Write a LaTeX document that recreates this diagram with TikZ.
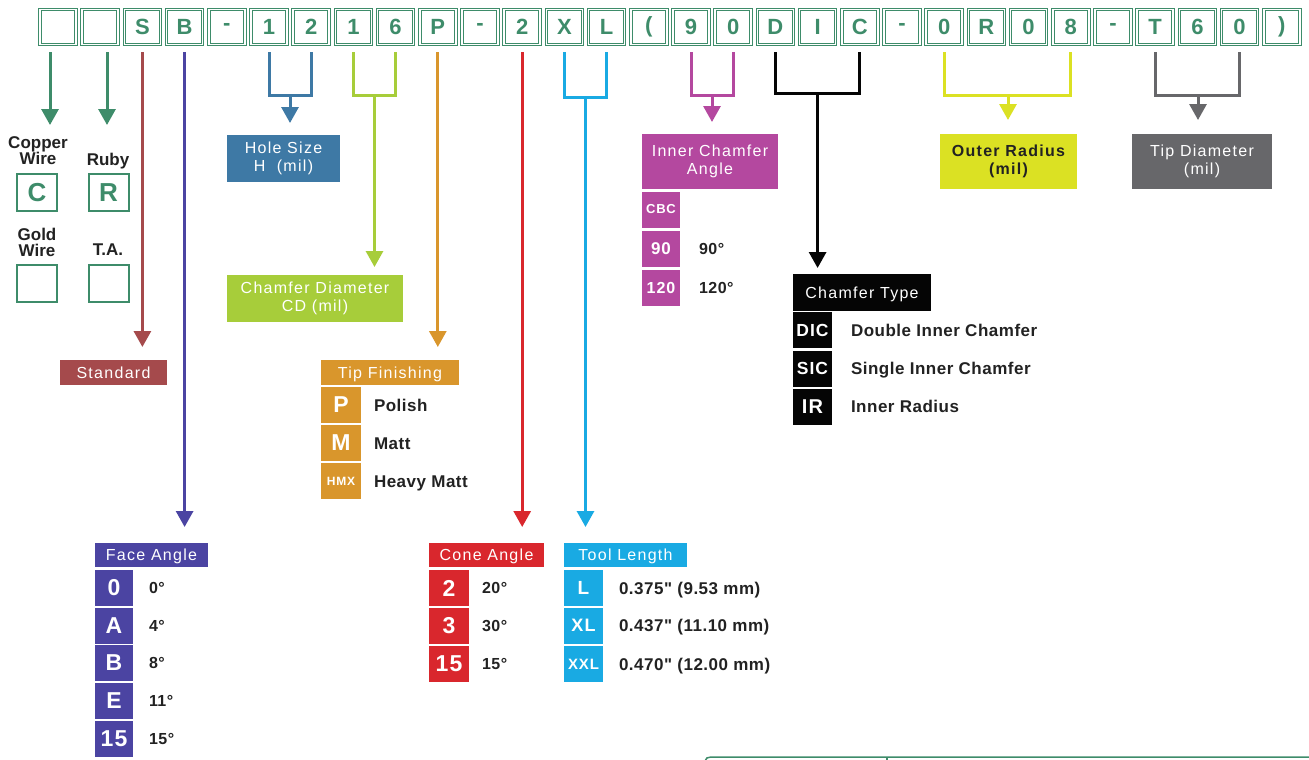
\documentclass[tikz,border=0pt]{standalone}
\usepackage{fontspec}
\setmainfont{Liberation Sans}
\newfontfamily\hdrf{Liberation Sans}[LetterSpace=8]
\newfontfamily\celf{Liberation Sans}[LetterSpace=6]
\newfontfamily\dscf{Liberation Sans}[LetterSpace=3]
\usetikzlibrary{arrows.meta}
\definecolor{cgreen}{HTML}{3E8C6A}
\definecolor{stdC}{HTML}{A54A4C}
\definecolor{faceC}{HTML}{4B44A2}
\definecolor{holeC}{HTML}{3E79A5}
\definecolor{limeC}{HTML}{A7CD3A}
\definecolor{tipC}{HTML}{D9962C}
\definecolor{coneC}{HTML}{D9272D}
\definecolor{toolC}{HTML}{19AAE3}
\definecolor{icaC}{HTML}{B4489F}
\definecolor{blkC}{HTML}{050505}
\definecolor{outC}{HTML}{DBE123}
\definecolor{grayC}{HTML}{67676A}
\definecolor{txtC}{HTML}{222222}
\newcommand\fsz[2]{\fontsize{#1}{#2}\selectfont}
\begin{document}
\begin{tikzpicture}[x=1pt,y=-1pt,
  every node/.style={inner sep=0pt, outer sep=0pt},
  topbox/.style={draw=cgreen, double=white, double distance=1.6pt, line width=1pt,
    minimum width=36pt, minimum height=35pt, text=cgreen, font=\bfseries\fsz{22}{22}},
  lbox/.style={draw=cgreen, line width=2pt, minimum width=40pt, minimum height=37pt,
    text=cgreen, font=\bfseries\fsz{26}{26}},
  lbl/.style={align=center, text=txtC, font=\bfseries\fsz{17}{16}},
  hdr/.style={text=white, font=\hdrf\fsz{16}{18}, align=center},
  hdr1/.style={hdr, text height=11.5pt, text depth=0pt},
  cell/.style={minimum height=36pt, text=white, font=\celf\bfseries},
  val/.style={anchor=west, text=txtC, font=\dscf\bfseries\fsz{16}{16}, text height=11.5pt, text depth=0pt},
  dsc/.style={anchor=west, text=txtC, font=\dscf\bfseries\fsz{17}{17}, text height=12.2pt, text depth=0pt},
  arr/.style={line width=3pt, -{Triangle[width=17pt,length=16pt]}},
  brk/.style={line width=3pt, line join=miter},
]
\fill[white] (0,0) rectangle (1309,760);
\useasboundingbox (0,0) rectangle (1309,760);

% ---- top code boxes
\foreach \t [count=\i from 0] in {{},{},S,B,-,1,2,1,6,P,-,2,X,L,{(},9,0,D,I,C,-,0,R,0,8,-,T,6,0,{)}}
  \node[topbox] (b\i) at ({58+42.2*\i},27) {\t};

% ---- left group
\node[lbl] (cu) at (38,151) {Copper\\Wire};
\node[lbl, anchor=base] (ruby) at (108,165) {Ruby};
\node[lbox] (cbox) at (37,192.5) {C};
\node[lbox] (rbox) at (108.5,192.5) {R};
\node[lbl] (gold) at (37,242) {Gold\\Wire};
\node[lbl, anchor=base] (ta) at (108,255) {T.A.};
\node[lbox] (gbox) at (37,283.5) {};
\node[lbox] (tbox) at (108.5,283.5) {};
\coordinate (g0) at (50,125);
\coordinate (g1) at (107,125);
\draw[arr,cgreen] (g0 |- b0.south) ++(0,8) -- (g0);
\draw[arr,cgreen] (g1 |- b1.south) ++(0,8) -- (g1);

% ---- target boxes
\node[hdr1, fill=stdC, minimum width=107pt, minimum height=25pt] (std) at (113.5,372.5) {Standard};
\node[hdr1, fill=faceC, minimum width=113pt, minimum height=24pt] (fah) at (151.5,555) {Face Angle};
\node[hdr, fill=holeC, minimum width=113pt, minimum height=47pt] (hole) at (283.5,158.5) {Hole Size\\H~~(mil)};
\node[hdr, fill=limeC, minimum width=176pt, minimum height=47pt] (cd) at (315,298.5) {Chamfer Diameter\\CD (mil)};
\node[hdr1, fill=tipC, minimum width=138pt, minimum height=25pt] (tf) at (390,372.5) {Tip Finishing};
\node[hdr1, fill=coneC, minimum width=115pt, minimum height=24pt] (cone) at (486.5,555) {Cone Angle};
\node[hdr1, fill=toolC, minimum width=123pt, minimum height=24pt] (tool) at (625.5,555) {Tool Length};
\node[hdr, fill=icaC, minimum width=136pt, minimum height=55pt] (ica) at (710,161.5) {Inner Chamfer\\Angle};
\node[hdr1, fill=blkC, minimum width=138pt, minimum height=37pt] (ctype) at (862,292.5) {Chamfer Type};
\node[hdr, fill=outC, text=txtC, font=\hdrf\bfseries\fsz{16}{18}, minimum width=137pt, minimum height=55pt] (outer) at (1008.5,161.5) {Outer Radius\\(mil)};
\node[hdr, fill=grayC, minimum width=140pt, minimum height=55pt] (tipd) at (1202,161.5) {Tip Diameter\\(mil)};

% ---- single arrows
\draw[arr,stdC,shorten >=13pt] (b2.south) ++(0,8) -- (b2.south |- std.north);
\draw[arr,faceC,shorten >=16pt] (b3.south) ++(0,8) -- (b3.south |- fah.north);
\draw[arr,tipC,shorten >=13pt] (b9.south) ++(0,8) -- (b9.south |- tf.north);
\draw[arr,coneC,shorten >=16pt] (b11.south) ++(0,8) -- (b11.south |- cone.north);

% ---- brackets
\coordinate (hj) at (290,95);
\draw[brk,holeC] (b5.south) ++(0,8) |- (hj) -| ([yshift=-8pt]b6.south);
\draw[arr,holeC,shorten >=12pt] (hj) -- (hj |- hole.north);
\coordinate (lj) at (374.5,95);
\draw[brk,limeC] (b7.south) ++(0,8) |- (lj) -| ([yshift=-8pt]b8.south);
\draw[arr,limeC,shorten >=8pt] (lj) -- (lj |- cd.north);
\coordinate (tj) at (585.5,97);
\draw[brk,toolC] (b12.south) ++(0,8) |- (tj) -| ([yshift=-8pt]b13.south);
\draw[arr,toolC,shorten >=16pt] (tj) -- (tj |- tool.north);
\coordinate (mj) at (712,95);
\draw[brk,icaC] (b15.south) ++(0,8) |- (mj) -| ([yshift=-8pt]b16.south);
\draw[arr,icaC,shorten >=12pt] (mj) -- (mj |- ica.north);
\coordinate (kj) at (817.6,93);
\draw[brk,blkC] (b17.south) ++(0,8) |- (kj) -| ([yshift=-8pt]b19.south);
\draw[arr,blkC,shorten >=6pt] (kj) -- (kj |- ctype.north);
\coordinate (yj) at (1008,95);
\draw[brk,outC] (b21.south) ++(0,8) |- (yj) -| ([yshift=-8pt]b24.south);
\draw[arr,outC,shorten >=14pt] (yj) -- (yj |- outer.north);
\coordinate (gj) at (1198,95);
\draw[brk,grayC] (b26.south) ++(0,8) |- (gj) -| ([yshift=-8pt]b28.south);
\draw[arr,grayC,shorten >=14pt] (gj) -- (gj |- tipd.north);

% ---- Face angle table
\node[cell, fill=faceC, minimum width=38pt] (fa1) at (114,587.5) {\fsz{23}{23}0};
\node[cell, fill=faceC, minimum width=38pt] (fa2) at (114,625.5) {\fsz{23}{23}A};
\node[cell, fill=faceC, minimum width=38pt] (fa3) at (114,663) {\fsz{23}{23}B};
\node[cell, fill=faceC, minimum width=38pt] (fa4) at (114,700.5) {\fsz{23}{23}E};
\node[cell, fill=faceC, minimum width=38pt] (fa5) at (114,739) {\fsz{23}{23}15};
\node[val] (fv1) at (149,587.5) {0°};
\node[val] (fv2) at (149,625.5) {4°};
\node[val] (fv3) at (149,663) {8°};
\node[val] (fv4) at (149,700.5) {11°};
\node[val] (fv5) at (149,739) {15°};

% ---- Cone angle table
\node[cell, fill=coneC, minimum width=40pt] (ca1) at (449,588) {\fsz{23}{23}2};
\node[cell, fill=coneC, minimum width=40pt] (ca2) at (449,625.5) {\fsz{23}{23}3};
\node[cell, fill=coneC, minimum width=40pt] (ca3) at (449,664) {\fsz{23}{23}15};
\node[val] (cv1) at (482,588) {20°};
\node[val] (cv2) at (482,625.5) {30°};
\node[val] (cv3) at (482,664) {15°};

% ---- Tool length table
\node[cell, fill=toolC, minimum width=39pt] (tl1) at (583.5,588) {\fsz{19}{19}L};
\node[cell, fill=toolC, minimum width=39pt] (tl2) at (583.5,625.5) {\fsz{18}{18}XL};
\node[cell, fill=toolC, minimum width=39pt] (tl3) at (583.5,664) {\fsz{15}{15}XXL};
\node[dsc] (tv1) at (619,588) {0.375" (9.53 mm)};
\node[dsc] (tv2) at (619,625.5) {0.437" (11.10 mm)};
\node[dsc] (tv3) at (619,664) {0.470" (12.00 mm)};

% ---- Tip finishing table
\node[cell, fill=tipC, minimum width=40pt] (tp1) at (341,405) {\fsz{23}{23}P};
\node[cell, fill=tipC, minimum width=40pt] (tp2) at (341,443) {\fsz{23}{23}M};
\node[cell, fill=tipC, minimum width=40pt] (tp3) at (341,481) {\fsz{12}{12}HMX};
\node[dsc] (tpv1) at (374,405) {Polish};
\node[dsc] (tpv2) at (374,443) {Matt};
\node[dsc] (tpv3) at (374,481) {Heavy Matt};

% ---- Inner chamfer angle table
\node[cell, fill=icaC, minimum width=38pt] (ic1) at (661,209.5) {\fsz{13}{13}CBC};
\node[cell, fill=icaC, minimum width=38pt] (ic2) at (661,249) {\fsz{17}{17}90};
\node[cell, fill=icaC, minimum width=38pt] (ic3) at (661,288) {\fsz{16}{16}120};
\node[val] (icv2) at (699,249) {90°};
\node[val] (icv3) at (699,288) {120°};

% ---- Chamfer type table
\node[cell, fill=blkC, minimum width=39pt] (ct1) at (812.5,330) {\fsz{17.5}{17.5}DIC};
\node[cell, fill=blkC, minimum width=39pt] (ct2) at (812.5,368.5) {\fsz{17.5}{17.5}SIC};
\node[cell, fill=blkC, minimum width=39pt] (ct3) at (812.5,406.5) {\fsz{20}{20}IR};
\node[dsc] (ctv1) at (851,330) {Double Inner Chamfer};
\node[dsc] (ctv2) at (851,368.5) {Single Inner Chamfer};
\node[dsc] (ctv3) at (851,406.5) {Inner Radius};

% ---- cut-off table edge, bottom right
\draw[cgreen, line width=1.5pt] (705,761) to[out=90,in=180] (711,757) -- (1310,757);
\draw[cgreen, line width=1.5pt] (887,757) -- (887,761);
\end{tikzpicture}
\end{document}
